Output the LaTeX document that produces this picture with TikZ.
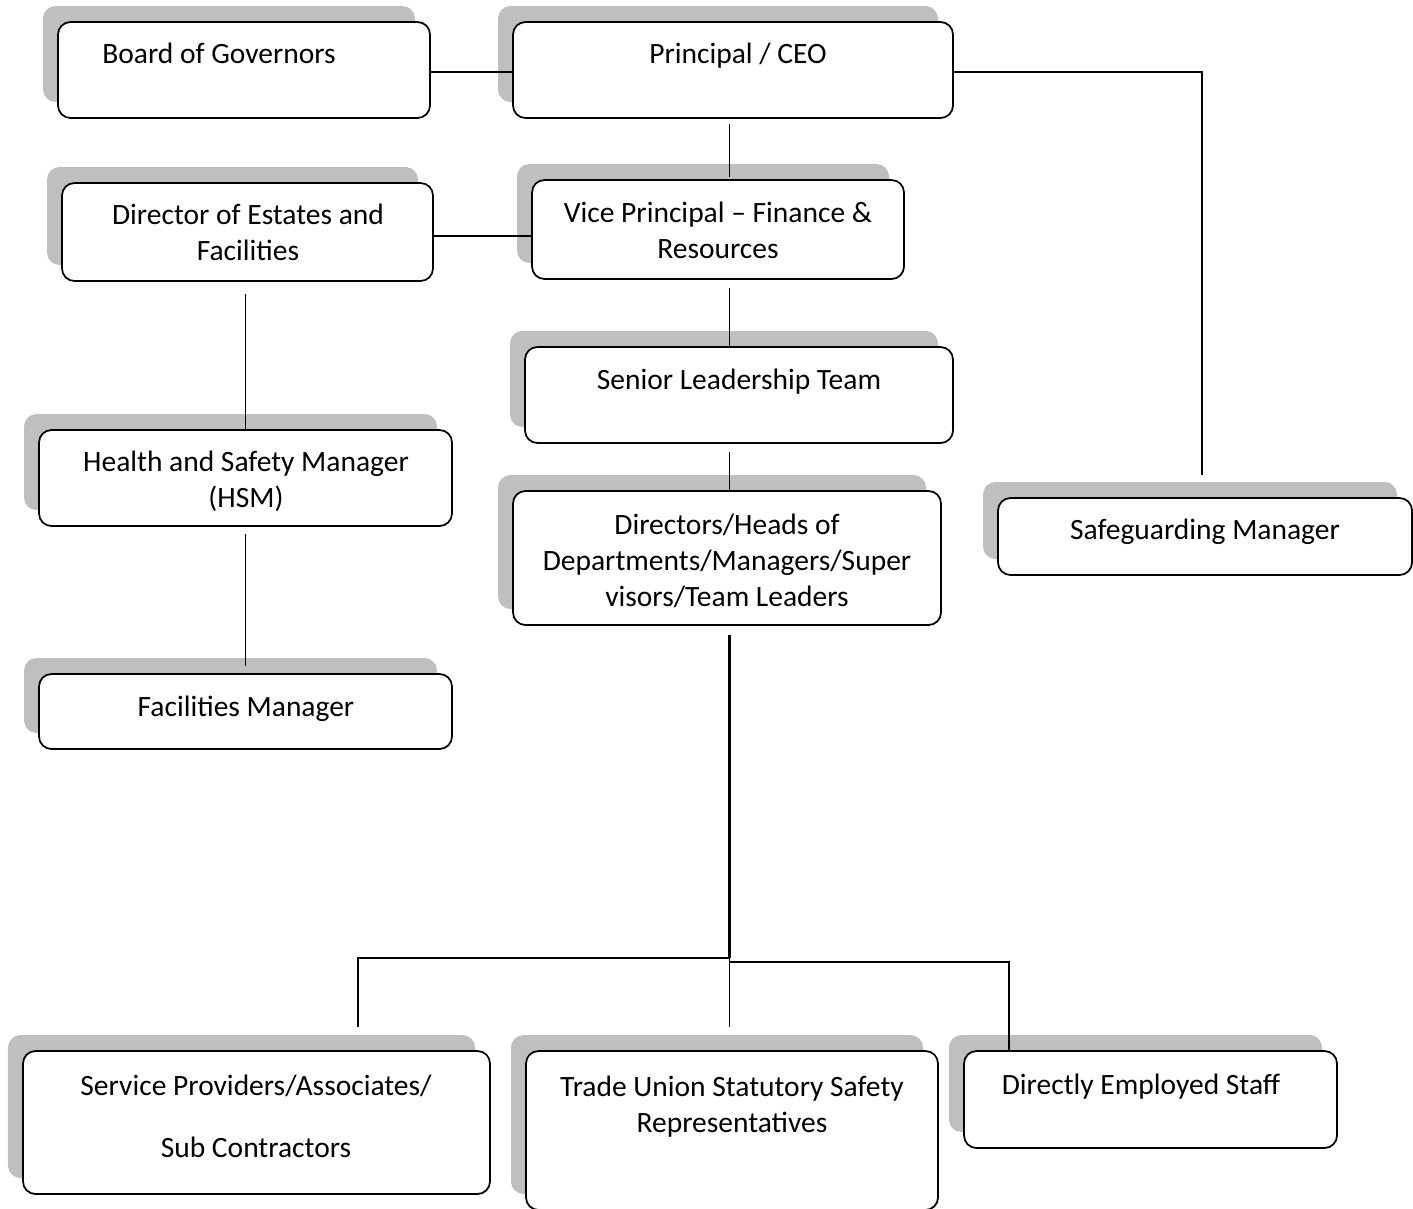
\documentclass[tikz,border=0pt]{standalone}
\usepackage{fontspec}
\setmainfont{Carlito}
\usepackage{xcolor}
\usepackage{tikz}
\usetikzlibrary{shadows}

\begin{document}
\begin{tikzpicture}[x=0.4pt, y=-0.4pt]
\tikzstyle{role} = [rectangle, draw, line width=0.7pt, fill=white, rounded corners=5pt, inner sep=0pt,
  general shadow={fill=black!25, shadow xshift=-6pt, shadow yshift=6.4pt}]
\tikzstyle{sz} = [minimum width=#1*0.4pt]
\tikzstyle{ht} = [minimum height=#1*0.4pt]
\tikzstyle{caption} = [anchor=north, inner sep=0pt, align=center, font=\fontsize{11.8pt}{14.4pt}\selectfont]
\tikzstyle{link} = [line width=0.7pt, black]
\tikzstyle{trunk} = [line width=1.1pt, black]

\useasboundingbox (0,0) rectangle (1413,1208);

% boxes
\node (gov) [role, sz=372, ht=96] at (244,70) {};
\node (ceo) [role, sz=440, ht=96] at (733,70) {};
\node (estates) [role, sz=371, ht=98] at (247.5,232) {};
\node (vp) [role, sz=372, ht=99] at (718,229.5) {};
\node (slt) [role, sz=428, ht=96] at (739,395) {};
\node (hsm) [role, sz=413, ht=96] at (245.5,478) {};
\node (heads) [role, sz=428, ht=134] at (727,558) {};
\node (safe) [role, sz=414, ht=77] at (1205,536.5) {};
\node (fac) [role, sz=413, ht=75] at (245.5,711.5) {};
\node (spa) [role, sz=467, ht=143] at (256.5,1122.5) {};
\node (tu) [role, sz=412, ht=159] at (732,1130.5) {};
\node (des) [role, sz=373, ht=97] at (1150.5,1099.5) {};

% texts
\node (gov-t) [caption] at (219,43) {Board of Governors};
\node (ceo-t) [caption] at (738,43) {Principal / CEO};
\node (estates-t) [caption] at (248,204) {Director of Estates and\\Facilities};
\node (vp-t) [caption] at (718,202) {Vice Principal -- Finance \&\\Resources};
\node (slt-t) [caption] at (739,369) {Senior Leadership Team};
\node (hsm-t) [caption] at (246,451) {Health and Safety Manager\\(HSM)};
\node (heads-t) [caption] at (727,514) {Directors/Heads of\\Departments/Managers/Super\\visors/Team Leaders};
\node (safe-t) [caption] at (1205,519) {Safeguarding Manager};
\node (fac-t) [caption] at (246,695) {Facilities Manager};
\node (spa-t) [caption] at (256,1074) {Service Providers/Associates/\\[10.4pt]Sub Contractors};
\node (tu-t) [caption] at (732,1075) {Trade Union Statutory Safety\\Representatives};
\node (des-t) [caption] at (1141,1073) {Directly Employed Staff};

% connectors
\coordinate (spine) at (729.5,0);
\coordinate (tap) at (1202,72);
\coordinate (side) at (0,236);
\coordinate (bus) at (729.5,958);
\coordinate (busL) at (358,958);
\coordinate (busR) at (1009,962);

\draw [link] (gov.east |- tap) -- (ceo.west |- tap);
\draw [link, shorten >=8.8pt] (ceo.east |- tap) -| (safe.north -| tap);
\draw [link, shorten <=2pt, shorten >=0.8pt] (ceo.south -| spine) -- (vp.north -| spine);
\draw [link] (estates.east |- side) -- (vp.west |- side);
\draw [link, shorten <=3.2pt] (vp.south -| spine) -- (slt.north -| spine);
\draw [link, shorten <=3.2pt] (slt.south -| spine) -- (heads.north -| spine);
\draw [link, shorten <=4.8pt] (estates.south -| hsm.north) -- (hsm.north);
\draw [link, shorten <=2.8pt, shorten >=2.8pt] (hsm.south) -- (fac.north);

\draw [trunk, shorten <=3.6pt] (heads.south -| spine) -- (bus);
\draw [link, shorten >=9.2pt] (bus) -- (busL) -- (spa.north -| busL);
\draw [link, shorten >=9.2pt] (bus) -- (tu.north -| spine);
\draw [link] (bus |- busR) -- (busR) -- (des.north -| busR);

\end{tikzpicture}
\end{document}
